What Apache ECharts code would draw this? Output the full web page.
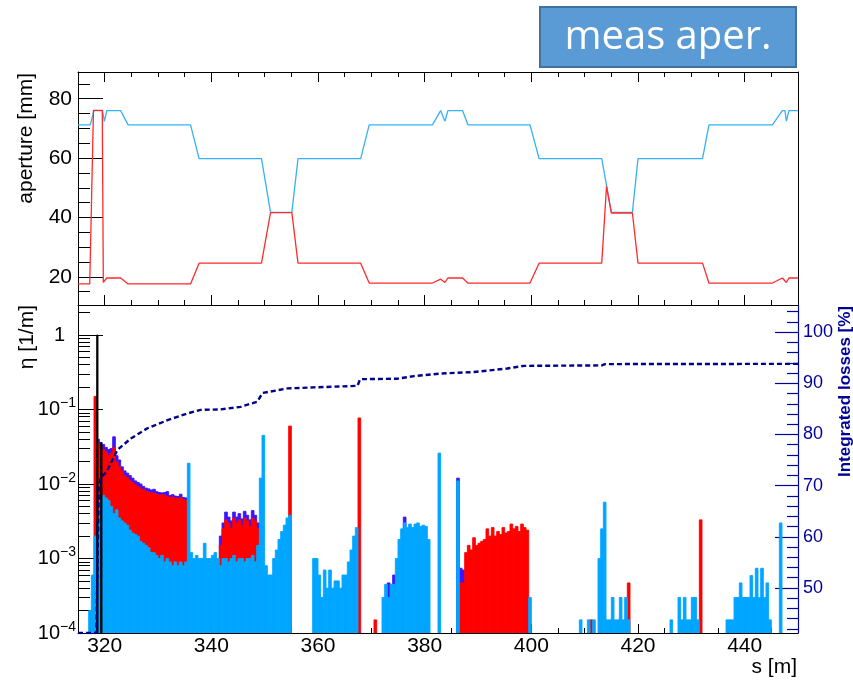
<!DOCTYPE html>
<html><head><meta charset="utf-8">
<script src="https://cdn.jsdelivr.net/npm/echarts@6/dist/echarts.min.js"></script>
<style>html,body{margin:0;padding:0;background:#fff}#c{width:853px;height:683px}</style>
</head><body><div id="c"></div>
<script>
// ---------------- data ----------------
const S_RANGE = [315, 450];
const APER_RANGE = [10.5, 89];
const ETA_RANGE = [1e-4, 2.53];
const LOSS_RANGE = [41.2, 105.3];

const xTickLabels = [320, 340, 360, 380, 400, 420, 440];
const xMinorTicks = [325,330,335,345,350,355,365,370,375,385,390,395,405,410,415,425,430,435,445];
const aperTicks = [20, 40, 60, 80];
const aperMinorTicks = [15,25,30,35,45,50,55,65,70,75,85];
const etaTickExp = [-4, -3, -2, -1, 0];
const etaMinorTicks = [2e-4,3e-4,4e-4,5e-4,6e-4,7e-4,8e-4,9e-4,2e-3,3e-3,4e-3,5e-3,6e-3,7e-3,8e-3,9e-3,
  0.02,0.03,0.04,0.05,0.06,0.07,0.08,0.09,0.2,0.3,0.4,0.5,0.6,0.7,0.8,0.9,2];
const lossTicks = [50, 60, 70, 80, 90, 100];
const lossMinorTicks = [42,44,46,48,52,54,56,58,62,64,66,68,72,74,76,78,82,84,86,88,92,94,96,98,102,104];

// aperture [mm] vs s [m]
const aperBlue = [[315,71.2],[317.3,71.2],[318.0,76],[319.6,76],[319.95,72.4],[320.4,76],[323.0,76],[324.4,71.2],
  [336.1,71.2],[337.7,59.8],[349.4,59.8],[351.1,41.7],[355.1,41.7],[356.25,59.8],[368.0,59.8],[369.6,71.2],
  [381.45,71.2],[383.0,76],[383.3,76],[383.8,72.4],[384.35,76],[387.1,76],[388.1,71.2],[399.75,71.2],
  [401.45,59.8],[413.2,59.8],[415.0,41.7],[418.95,41.7],[420.0,59.8],[432.1,59.8],[433.3,71.2],[445.2,71.2],
  [447.07,76],[447.56,76],[447.82,72.4],[448.3,76],[450,76]];
const aperRed = [[315,17.6],[317.2,17.6],[317.9,76.1],[319.55,76.1],[319.75,18.1],[320.4,19.6],[323.0,19.6],[324.4,17.6],
  [336.1,17.6],[337.7,24.6],[349.4,24.6],[351.1,41.6],[355.1,41.6],[356.25,24.6],[368.0,24.6],[369.6,17.9],
  [381.45,17.9],[383.0,19.2],[383.3,19.6],[383.8,18.1],[384.35,19.6],[387.1,19.6],[388.1,17.9],[399.75,17.9],
  [401.45,24.6],[413.2,24.6],[414.1,50.5],[415.0,41.5],[418.95,41.5],[420.0,24.6],[432.1,24.6],[433.3,17.9],
  [445.2,17.9],[447.07,19.6],[447.82,18.1],[448.3,19.6],[450,19.6]];

// loss histograms, eta [1/m]: runs of [first bin left edge s, values per bin]
const BIN = 0.5;
const coldRuns = [
  [317.0, [2e-4,6e-4,2e-3,3e-3,6e-3,7e-3,6.5e-3,6e-3,5e-3,4e-3,4.5e-3,3.5e-3,3.2e-3,3e-3,2.8e-3,2.4e-3,2.2e-3,2.1e-3,2e-3,1.7e-3,
           1.6e-3,1.5e-3,1.4e-3,1.2e-3,1.2e-3,1.1e-3,1e-3,1.1e-3,9e-4,1e-3,9e-4,8e-4,9e-4,8e-4,9e-4,8e-4,9e-4,0.019,
           1.2e-3,1e-3,1.1e-3,1e-3,1e-3,1.6e-3,1e-3,1e-3,1.1e-3,1.2e-3,1e-3,8e-4,1e-3,1e-3,9e-4,1e-3,1.1e-3,9e-4,1e-3,1e-3,9e-4,1e-3,1e-3,1.1e-3,9e-4,
           1.5e-3,0.012,0.045,8e-4,6e-4,6e-4,1e-3,1.3e-3,1.8e-3,2.3e-3,2.8e-3,3.5e-3,3.8e-3]],
  [359.0, [1e-3,1e-3,6e-4,3e-4,7e-4,4e-4,7e-4,4e-4,5e-4,5e-4,4e-4,6e-4,6e-4,9e-4,1.3e-3,2e-3,2.6e-3]],
  [372.0, [3e-4,4.5e-4,3e-4,4.5e-4,4.5e-4,1e-3,1.8e-3,2.5e-3,3e-3,2.6e-3,2.9e-3,2.6e-3,2.9e-3,3e-3,2.7e-3,2.8e-3,2.7e-3,1.8e-3]],
  [382.5, [0.026]],
  [386.0, [0.011]],
  [399.5, [3e-4]],
  [409.0, [1.5e-4,0,0,1.5e-4,0,1.5e-4,0,1e-3,2.5e-3,5.7e-3,1.5e-4,1.5e-4,3e-4,1.5e-4,1.5e-4,3e-4,1.5e-4,3e-4,1.5e-4]],
  [426.0, [1.5e-4,0,0,3e-4,1.5e-4,3e-4,1.5e-4,1.5e-4,3e-4,3e-4,1.5e-4]],
  [436.5, [1.5e-4,1.5e-4,1.5e-4,3e-4,3e-4,4.7e-4,3e-4,3e-4,3e-4,5.9e-4,3e-4,7.4e-4,3e-4,7.4e-4,3e-4,4.7e-4,1.5e-4]],
  [446.5, [3e-3]]
];
const warmRuns = [
  [318.0, [0.15,0.035,0.032,0.029,0.027,0.024,0.026,0.031,0.02,0.017,0.015,0.013,0.0122,0.0112,0.0105,0.0098,0.0092,0.0088,
           0.0084,0.008,0.0078,0.0076,0.0076,0.0073,0.0071,0.0072,0.0071,0.0068,0.0066,0.0067,0.0065,0.0064,0.0066,0.0062,0.006]],
  [341.5, [1.5e-3,2.5e-3,3.3e-3,3e-3,2.5e-3,3.5e-3,3e-3,3.3e-3,2.8e-3,3.5e-3,3.2e-3,2.7e-3,3.5e-3,3.2e-3,2.5e-3]],
  [354.5, [0.06]],
  [367.5, [0.077]],
  [370.5, [1.5e-4]],
  [386.5, [4.7e-4,4.7e-4,1.2e-3,1.5e-3,1.3e-3,1.9e-3,1.5e-3,1.6e-3,1.7e-3,1.8e-3,2.5e-3,2e-3,2.6e-3,2e-3,2.3e-3,2.1e-3,
           2.6e-3,2.2e-3,2.3e-3,2.9e-3,2.5e-3,2.7e-3,2.3e-3,2.9e-3,2.6e-3,2.4e-3]],
  [411.0, [1.5e-4]],
  [418.0, [4.7e-4]],
  [431.5, [3.3e-3]]
];
const totalRuns = [
  [318.5, [0.04,0.036,0.034,0.031,0.029,0.03,0.043,0.024,0.021,0.017,0.015,0.014,0.013,0.012,0.011,0.0105,0.01,0.0093,
           0.0088,0.0086,0.0083,0.0085,0.0079,0.0077,0.0076,0.0077,0.0079,0.007,0.0072,0.0069,0.0068,0.0073,0.0066,0.0065]],
  [341.5, [2e-3,3e-3,4.2e-3,3.6e-3,3.2e-3,4.2e-3,3.6e-3,4e-3,3.4e-3,4.3e-3,3.8e-3,3.3e-3,4.4e-3,3.8e-3,3e-3]],
  [373.0, [4.7e-4]],
  [374.0, [6e-4]],
  [376.0, [3.6e-3]],
  [386.0, [0.012,7.4e-4,7e-4]]
];
// collimator losses: [s from, s to, eta]
const collBins = [[318.5, 318.75, 1.0], [319.25, 319.5, 0.036]];

// integrated losses [%]
const cumS = [315,318.45,318.9,319.25,320.5,322.4,324.9,328,331.8,335.5,338,341.75,345.5,348.6,349.6,354.3,359.2,367.4,367.9,
  374.9,378,383,389.25,395.5,398.6,413.2,413.8,450];
const cumV = [41.2,41.2,69.8,71.4,73,77,79.2,81.2,82.8,84.1,84.8,84.9,85.4,86.4,88.1,89.0,89.2,89.5,90.8,
  90.9,91.4,91.9,92.2,92.9,93.4,93.5,93.75,93.8];

// ---------------- chart ----------------
const FONT = 'Liberation Sans';
const NAVY = '#00009a';

function buildBins(runs, bin) {
  const out = [];
  runs.forEach(function (r) {
    r[1].forEach(function (v, i) { if (v > 0) out.push([r[0] + i * bin, r[0] + (i + 1) * bin, v]); });
  });
  return out;
}
function histItem(params, api) {
  const s0 = api.value(0), s1 = api.value(1), v = api.value(2);
  const top = api.coord([s0, v]);
  const bot = api.coord([s1, ETA_RANGE[0]]);
  const c = api.visual('color');
  return { type: 'rect', shape: { x: top[0], y: top[1], width: bot[0] - top[0], height: bot[1] - top[1] },
           style: { fill: c, stroke: c, lineWidth: 0.9 } };
}
function histSeries(name, data, color, z) {
  return { type: 'custom', name: name, xAxisIndex: 4, yAxisIndex: 3, renderItem: histItem, data: data,
           encode: { x: [0, 1], y: 2 }, itemStyle: { color: color }, z: z, clip: true, silent: true };
}
function xAx(grid, pos, ticks, len, line, labels) {
  return { type: 'value', gridIndex: grid, position: pos, min: S_RANGE[0], max: S_RANGE[1],
    axisLine: { show: line, lineStyle: { color: '#000', width: 1 } },
    axisTick: { show: true, inside: true, length: len, customValues: ticks, lineStyle: { color: '#000', width: 1 } },
    axisLabel: labels ? { show: true, customValues: ticks, fontSize: 21, fontFamily: FONT, color: '#000', margin: 3 } : { show: false },
    splitLine: { show: false } };
}
const etaTicks = etaTickExp.map(function (e) { return Math.pow(10, e); });

const option = {
  animation: false,
  backgroundColor: '#fff',
  grid: [
    { left: 78, top: 72, width: 720, height: 233, containLabel: false, outerBoundsMode: 'none' },
    { left: 78, top: 305, width: 720, height: 328, containLabel: false, outerBoundsMode: 'none' }
  ],
  xAxis: [
    xAx(0, 'bottom', xTickLabels, 10, true, false),
    xAx(0, 'bottom', xMinorTicks, 5, false, false),
    xAx(0, 'top', xTickLabels, 10, true, false),
    xAx(0, 'top', xMinorTicks, 5, false, false),
    xAx(1, 'bottom', xTickLabels, 9, true, true),
    xAx(1, 'bottom', xMinorTicks, 5, false, false)
  ],
  yAxis: [
    { type: 'value', gridIndex: 0, position: 'left', min: APER_RANGE[0], max: APER_RANGE[1],
      axisLine: { show: true, lineStyle: { color: '#000' } },
      axisTick: { inside: true, length: 25, customValues: aperTicks, lineStyle: { color: '#000' } },
      axisLabel: { customValues: aperTicks, fontSize: 21, fontFamily: FONT, color: '#000', margin: 6 },
      splitLine: { show: false } },
    { type: 'value', gridIndex: 0, position: 'left', min: APER_RANGE[0], max: APER_RANGE[1],
      axisLine: { show: false }, axisLabel: { show: false }, splitLine: { show: false },
      axisTick: { inside: true, length: 12, customValues: aperMinorTicks, lineStyle: { color: '#000' } } },
    { type: 'value', gridIndex: 0, position: 'right', min: APER_RANGE[0], max: APER_RANGE[1],
      axisLine: { show: true, lineStyle: { color: '#000' } }, axisTick: { show: false }, axisLabel: { show: false }, splitLine: { show: false } },
    { type: 'log', logBase: 10, gridIndex: 1, position: 'left', min: ETA_RANGE[0], max: ETA_RANGE[1],
      axisLine: { show: true, lineStyle: { color: '#000' } },
      axisTick: { inside: true, length: 25, customValues: etaTicks, lineStyle: { color: '#000' } },
      axisLabel: { customValues: etaTicks, margin: 2, color: '#000',
        formatter: function (v) {
          const e = Math.round(Math.log10(v));
          return e === 0 ? '{one|1}' : '{b|10}{e|\u2212' + (-e) + '}';
        },
        rich: { one: { fontSize: 20, fontFamily: FONT, color: '#000', padding: [0, 11, 0, 0] },
                b: { fontSize: 20, fontFamily: FONT, color: '#000' },
                e: { fontSize: 14, fontFamily: FONT, color: '#000', padding: [0, 0, 12, 0] } } },
      splitLine: { show: false } },
    { type: 'log', logBase: 10, gridIndex: 1, position: 'left', min: ETA_RANGE[0], max: ETA_RANGE[1],
      axisLine: { show: false }, axisLabel: { show: false }, splitLine: { show: false },
      axisTick: { inside: true, length: 12, customValues: etaMinorTicks, lineStyle: { color: '#000' } } },
    { type: 'value', gridIndex: 1, position: 'right', min: LOSS_RANGE[0], max: LOSS_RANGE[1],
      axisLine: { show: true, lineStyle: { color: NAVY, width: 1.2 } },
      axisTick: { inside: true, length: 23, customValues: lossTicks, lineStyle: { color: NAVY, width: 1.2 } },
      axisLabel: { customValues: lossTicks, fontSize: 18, fontFamily: FONT, color: NAVY, margin: 5 },
      splitLine: { show: false } },
    { type: 'value', gridIndex: 1, position: 'right', min: LOSS_RANGE[0], max: LOSS_RANGE[1],
      axisLine: { show: false }, axisLabel: { show: false }, splitLine: { show: false },
      axisTick: { inside: true, length: 11, customValues: lossMinorTicks, lineStyle: { color: NAVY, width: 1.2 } } }
  ],
  series: [
    { type: 'line', xAxisIndex: 0, yAxisIndex: 0, data: aperBlue, symbol: 'none', lineStyle: { color: '#35b2f5', width: 1.3 }, z: 3, silent: true },
    { type: 'line', xAxisIndex: 0, yAxisIndex: 0, data: aperRed, symbol: 'none', lineStyle: { color: '#ff2a2a', width: 1.3 }, z: 4, silent: true },
    histSeries('total', buildBins(totalRuns, BIN), '#3c14ff', 2),
    histSeries('warm', buildBins(warmRuns, BIN), '#ff0000', 3),
    histSeries('cold', buildBins(coldRuns, BIN), '#00a6ff', 4),
    histSeries('coll', collBins, '#000000', 5),
    { type: 'line', xAxisIndex: 4, yAxisIndex: 5, data: cumS.map(function (s, i) { return [s, cumV[i]]; }),
      symbol: 'none', lineStyle: { color: '#00008b', width: 2.4, type: [5, 3] }, z: 10, clip: true, silent: true }
  ],
  graphic: [
    { type: 'rect', shape: { x: 540, y: 7, width: 256, height: 60 }, style: { fill: '#5b9bd5', stroke: '#41719c', lineWidth: 2 } },
    { type: 'text', x: 668, y: 38, style: { text: 'meas aper.', fontSize: 40, fontFamily: 'Open Sans', fill: '#fff',
        textAlign: 'center', textVerticalAlign: 'middle', align: 'center', verticalAlign: 'middle' } },
    { type: 'text', x: 26, y: 73, rotation: Math.PI / 2, style: { text: 'aperture [mm]', fontSize: 21, fontFamily: FONT, fill: '#000',
        textAlign: 'right', textVerticalAlign: 'middle', align: 'right', verticalAlign: 'middle' } },
    { type: 'text', x: 27, y: 305, rotation: Math.PI / 2, style: { text: '\u03b7 [1/m]', fontSize: 21, fontFamily: FONT, fill: '#000',
        textAlign: 'right', textVerticalAlign: 'middle', align: 'right', verticalAlign: 'middle' } },
    { type: 'text', x: 797, y: 667, style: { text: 's [m]', fontSize: 21, fontFamily: FONT, fill: '#000',
        textAlign: 'right', textVerticalAlign: 'middle', align: 'right', verticalAlign: 'middle' } },
    { type: 'text', x: 845, y: 306, rotation: Math.PI / 2, style: { text: 'Integrated losses [%]', fontSize: 17, fontWeight: 'bold',
        fontFamily: FONT, fill: NAVY, textAlign: 'right', textVerticalAlign: 'middle', align: 'right', verticalAlign: 'middle' } }
  ]
};
const chart = echarts.init(document.getElementById('c'));
chart.setOption(option);
</script>
</body></html>
